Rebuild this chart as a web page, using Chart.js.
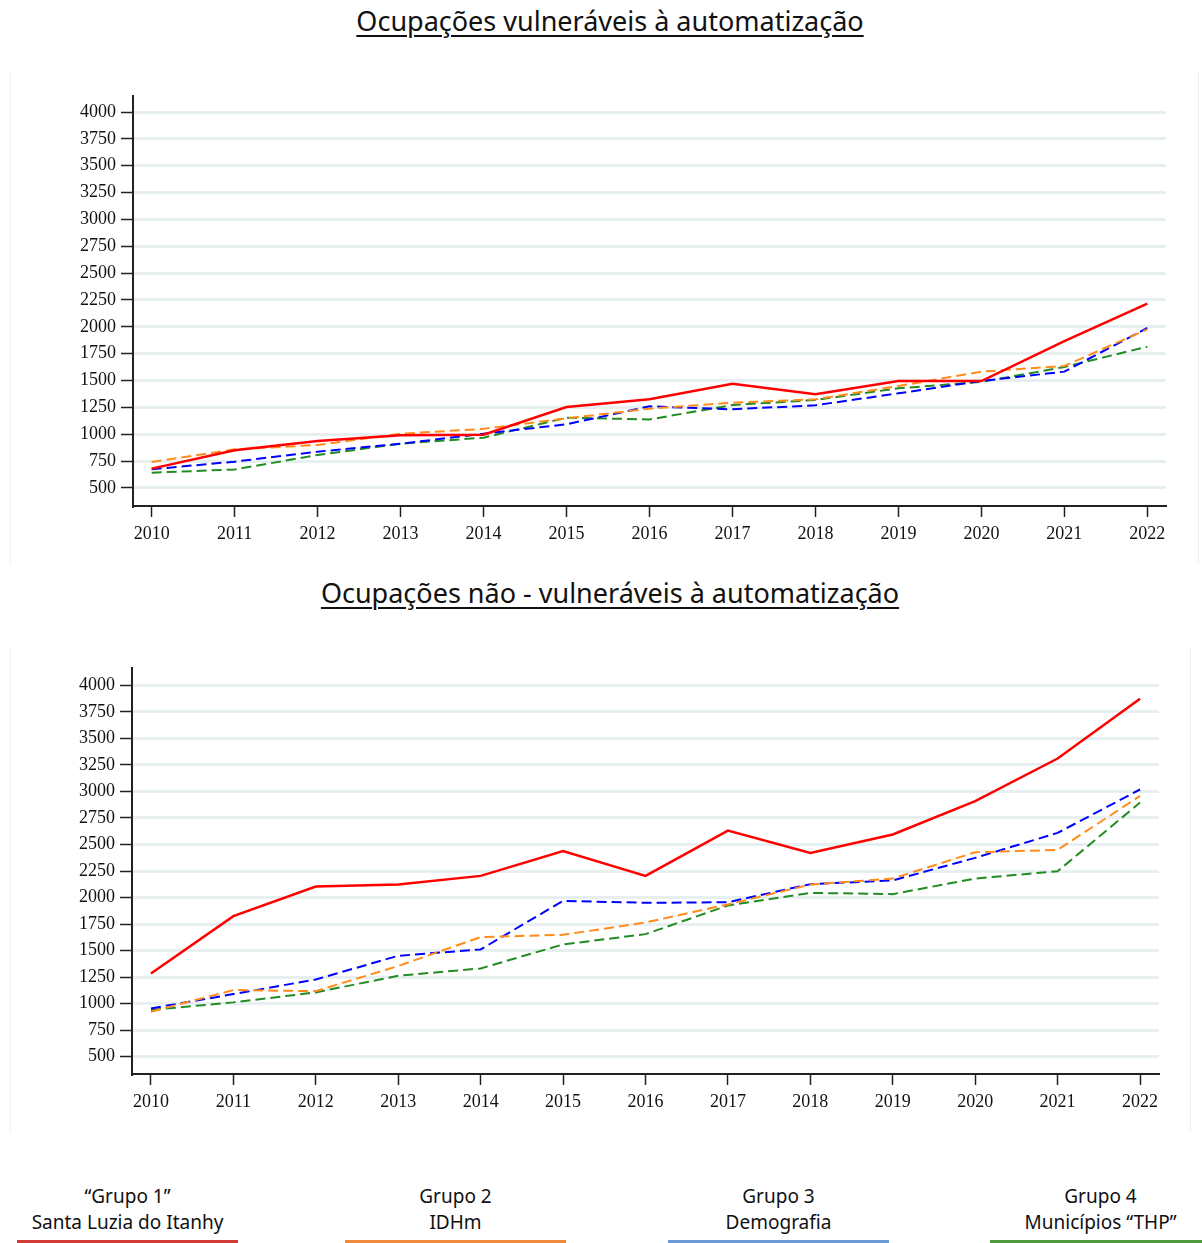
<!DOCTYPE html>
<html lang="pt-BR">
<head>
<meta charset="utf-8">
<title>Ocupações vulneráveis à automatização</title>
<script src="https://cdn.jsdelivr.net/npm/chart.js@4.4.1/dist/chart.umd.min.js"></script>
<style>
body{margin:0;background:#fff;width:1202px;height:1243px;position:relative;overflow:hidden;font-family:"Noto Sans",sans-serif;color:#111;}
.titulo{position:absolute;left:0;width:1220px;text-align:center;font-size:27px;text-decoration:underline;text-underline-offset:4px;text-decoration-thickness:1.5px;margin:0;font-weight:normal;}
.painel{position:absolute;border-left:1px solid #f1f1f1;border-right:1px solid #f1f1f1;}
.graf{position:absolute;left:0;width:1202px;height:480px;}
.leg{position:absolute;top:1183px;width:221px;text-align:center;font-size:19px;line-height:26px;}
.leg span{position:absolute;left:0;right:0;top:57px;height:3px;}
</style>
</head>
<body>

<h1 class="titulo" style="top:2px">Ocupações vulneráveis à automatização</h1>
<div class="painel" style="left:10px;top:72px;width:1187px;height:492px"></div>
<div class="graf" style="top:80px"><canvas id="chart1"></canvas></div>

<h1 class="titulo" style="top:574px">Ocupações não - vulneráveis à automatização</h1>
<div class="painel" style="left:10px;top:647px;width:1179px;height:485px"></div>
<div class="graf" style="top:650px"><canvas id="chart2"></canvas></div>

<div class="leg" style="left:17px">“Grupo 1”<br>Santa Luzia do Itanhy<span style="background:#d23c36"></span></div>
<div class="leg" style="left:345px">Grupo 2<br>IDHm<span style="background:#ef8a3c"></span></div>
<div class="leg" style="left:668px">Grupo 3<br>Demografia<span style="background:#6c9ad6"></span></div>
<div class="leg" style="left:990px">Grupo 4<br>Municípios “THP”<span style="background:#4e9a3c"></span></div>

<script>
const anos = [2010,2011,2012,2013,2014,2015,2016,2017,2018,2019,2020,2021,2022];
const yTicks = [500,750,1000,1250,1500,1750,2000,2250,2500,2750,3000,3250,3500,3750,4000];

// vulneráveis
const vulnGrupo1 = [680,851,937,990,995,1254,1325,1471,1372,1496,1495,1868,2216];
const vulnGrupo2 = [742,860,900,1005,1050,1148,1238,1294,1325,1449,1583,1636,1977];
const vulnGrupo3 = [674,745,838,912,1005,1093,1260,1232,1270,1381,1496,1583,1990];
const vulnGrupo4 = [642,672,807,912,968,1154,1138,1272,1319,1428,1487,1626,1815];

// não vulneráveis
const naoGrupo1 = [1285,1825,2104,2123,2204,2437,2204,2631,2421,2594,2908,3310,3874];
const naoGrupo2 = [924,1128,1118,1355,1627,1649,1765,1935,2122,2179,2427,2449,2958];
const naoGrupo3 = [955,1090,1228,1451,1511,1969,1950,1956,2126,2161,2374,2609,3018];
const naoGrupo4 = [940,1012,1106,1263,1332,1558,1655,1925,2044,2032,2179,2248,2895];

const cores = ['#ff0000','#ff8c1a','#0000ff','#228b22'];

function serie(valores, i){
  return {
    data: anos.map((a,k)=>({x:a, y:valores[k]})),
    borderColor: cores[i],
    borderWidth: i==0 ? 2.5 : 2,
    borderDash: i==0 ? [] : [10,5],
    pointRadius: 0,
    tension: 0,
    order: i==0 ? 0 : i
  };
}

function fonteTick(){ return {family:'"Liberation Serif","Times New Roman",serif', size:18}; }

function criaGrafico(id, grupos, box){
  new Chart(document.getElementById(id),{
    type:'line',
    data:{datasets: grupos.map((g,i)=>serie(g,i))},
    options:{
      responsive:true,
      maintainAspectRatio:false,
      animation:false,
      events:[],
      layout:{padding:{top:box.top, right:box.right, left:0, bottom:0}},
      plugins:{legend:{display:false}, tooltip:{enabled:false}},
      scales:{
        x:{
          type:'linear',
          min:2010-box.off, max:2022+box.off,
          afterBuildTicks:s=>{ s.ticks = anos.map(v=>({value:v})); },
          afterFit:s=>{ s.height = box.xh; },
          ticks:{color:'#111', font:fonteTick(), padding:6, autoSkip:false, maxRotation:0, callback:v=>String(v)},
          grid:{drawOnChartArea:false, tickLength:11, tickColor:'#222', tickWidth:1.5},
          border:{color:'#222', width:2}
        },
        y:{
          min:box.ymin, max:box.ymax,
          afterBuildTicks:s=>{ s.ticks = yTicks.map(v=>({value:v})); },
          afterFit:s=>{ s.width = box.left; },
          ticks:{color:'#111', font:fonteTick(), padding:5, callback:v=>String(v)},
          grid:{color:'#e7eff1', lineWidth:3, tickLength:12, tickColor:'#222', tickWidth:1.5},
          border:{color:'#222', width:2}
        }
      }
    }
  });
}

criaGrafico('chart1', [vulnGrupo1,vulnGrupo2,vulnGrupo3,vulnGrupo4],
  {top:16, right:36, left:133, xh:54, off:0.225, ymin:332, ymax:4149});
criaGrafico('chart2', [naoGrupo1,naoGrupo2,naoGrupo3,naoGrupo4],
  {top:18, right:43, left:132, xh:56, off:0.23, ymin:337, ymax:4163});
</script>
</body>
</html>
